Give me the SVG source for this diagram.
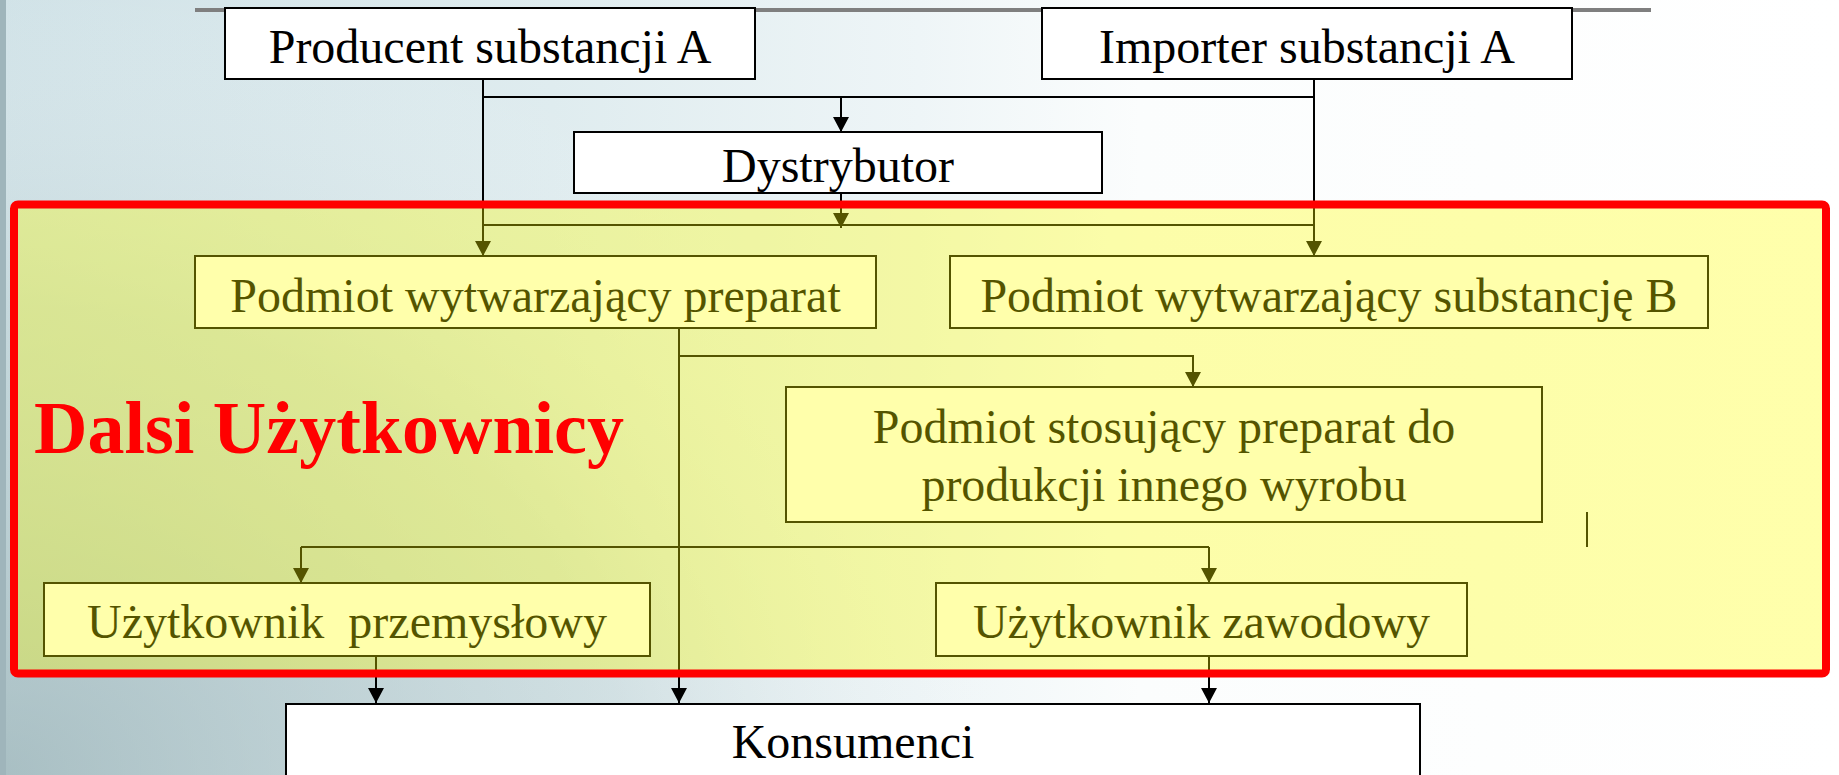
<svg xmlns="http://www.w3.org/2000/svg" width="1839" height="775" viewBox="0 0 1839 775">
<defs>
<linearGradient id="bgH" x1="0" y1="0" x2="1839" y2="0" gradientUnits="userSpaceOnUse">
<stop offset="0" stop-color="#d0e2e7"/>
<stop offset="0.3" stop-color="#dfecef"/>
<stop offset="0.5" stop-color="#eef5f7"/>
<stop offset="0.62" stop-color="#fbfdfd"/>
<stop offset="1" stop-color="#ffffff"/>
</linearGradient>
<radialGradient id="bgR" cx="0" cy="775" r="1250" gradientUnits="userSpaceOnUse" gradientTransform="translate(0,775) scale(1,0.75) translate(0,-775)">
<stop offset="0" stop-color="#93acb0" stop-opacity="0.65"/>
<stop offset="0.5" stop-color="#adc2c5" stop-opacity="0.3"/>
<stop offset="0.85" stop-color="#ffffff" stop-opacity="0"/>
</radialGradient>
<marker id="ah" markerUnits="userSpaceOnUse" markerWidth="15" markerHeight="16" viewBox="0 0 15 16" refX="15" refY="8" orient="auto">
<path d="M0,0 L15,8 L0,16 Z" fill="#000"/>
</marker>
<style>
.box{fill:#ffffff;stroke:#000;stroke-width:2}
.lbl{font-family:"Liberation Serif","Times New Roman",serif;font-size:48px;fill:#000;text-anchor:middle}
.ln{fill:none;stroke:#000;stroke-width:2}
.arr{fill:none;stroke:#000;stroke-width:2;marker-end:url(#ah)}
.title{font-family:"Liberation Serif","Times New Roman",serif;font-size:74px;font-weight:bold;fill:#ff0000}
</style>
</defs>
<g id="background">
<rect x="0" y="0" width="1839" height="775" fill="url(#bgH)"/>
<rect x="0" y="0" width="1839" height="775" fill="url(#bgR)"/>
<rect x="0" y="0" width="6" height="775" fill="#9fb5bb"/>
<line x1="195" y1="10" x2="1651" y2="10" stroke="#7f7f7f" stroke-width="4"/>
</g>
<g id="connectors">
<path class="arr" d="M483,79 V256"/>
<path class="ln" d="M483,97 H1314"/>
<path class="arr" d="M1314,79 V256"/>
<path class="arr" d="M841,97 V132"/>
<path class="arr" d="M841,193 V228"/>
<path class="ln" d="M483,225 H1314"/>
<path class="arr" d="M679,328 V703"/>
<path class="arr" d="M679,356 H1193 V387"/>
<path class="ln" d="M301,547 H1209"/>
<path class="arr" d="M301,547 V583"/>
<path class="arr" d="M1209,547 V583"/>
<path class="arr" d="M376,656 V703"/>
<path class="arr" d="M1209,656 V703"/>
<path class="ln" d="M1587,512 V547"/>
</g>
<g id="producent">
<rect class="box" x="225" y="8" width="530" height="71"/>
<text class="lbl" x="490" y="63">Producent substancji A</text>
</g>
<g id="importer">
<rect class="box" x="1042" y="8" width="530" height="71"/>
<text class="lbl" x="1307" y="63">Importer substancji A</text>
</g>
<g id="dystrybutor">
<rect class="box" x="574" y="132" width="528" height="61"/>
<text class="lbl" x="838" y="182">Dystrybutor</text>
</g>
<g id="podmiot-preparat">
<rect class="box" x="195" y="256" width="681" height="72"/>
<text class="lbl" x="535.5" y="312">Podmiot wytwarzający preparat</text>
</g>
<g id="podmiot-substancja-b">
<rect class="box" x="950" y="256" width="758" height="72"/>
<text class="lbl" x="1329" y="312">Podmiot wytwarzający substancję B</text>
</g>
<g id="podmiot-stosujacy">
<rect class="box" x="786" y="387" width="756" height="135"/>
<text class="lbl" x="1164" y="443">Podmiot stosujący preparat do</text>
<text class="lbl" x="1164" y="501">produkcji innego wyrobu</text>
</g>
<g id="uzytkownik-przemyslowy">
<rect class="box" x="44" y="583" width="606" height="73"/>
<text class="lbl" x="347" y="638" xml:space="preserve">Użytkownik  przemysłowy</text>
</g>
<g id="uzytkownik-zawodowy">
<rect class="box" x="936" y="583" width="531" height="73"/>
<text class="lbl" x="1201.5" y="638">Użytkownik zawodowy</text>
</g>
<g id="konsumenci">
<rect class="box" x="286" y="704" width="1134" height="100"/>
<text class="lbl" x="853" y="758">Konsumenci</text>
</g>
<g id="dalsi-uzytkownicy">
<rect x="14" y="204.5" width="1812" height="469" rx="4" fill="#ffff00" fill-opacity="0.33" stroke="#ff0000" stroke-width="8"/>
<text class="title" x="34" y="453">Dalsi Użytkownicy</text>
</g>
</svg>
